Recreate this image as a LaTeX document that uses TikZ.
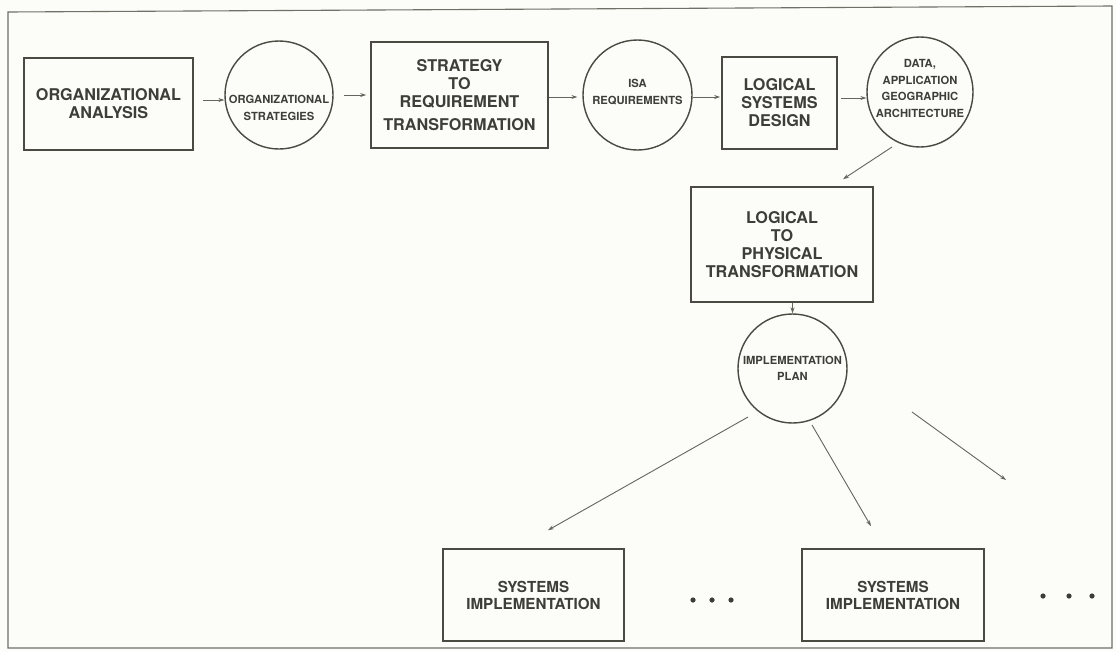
\documentclass[tikz,border=0pt]{standalone}
\usepackage{fontspec}
\setmainfont{TeX Gyre Heros}
\usetikzlibrary{shapes.geometric,arrows.meta,calc}
\definecolor{ink}{HTML}{4A4A42}
\definecolor{txt}{HTML}{3E3E38}
\definecolor{paper}{HTML}{FCFCF8}
\definecolor{framec}{HTML}{707068}
\begin{document}
\begin{tikzpicture}[x=1pt,y=-1pt,
  box/.style={draw=ink, line width=1.6pt, rectangle, inner sep=0pt, align=center, text=txt,
    font=\bfseries\fontsize{16.2}{18}\selectfont},
  sysbox/.style={box, font=\bfseries\fontsize{15.2}{17}\selectfont},
  circ/.style={draw=ink, line width=1.4pt, ellipse, inner sep=0pt},
  ctext/.style={text=txt, align=center, inner sep=0pt, font=\bfseries\fontsize{11.2}{16.5}\selectfont},
  arr/.style={draw=ink!85, line width=0.9pt, -{Stealth[length=6pt,width=4pt]}},
  frameline/.style={draw=framec, line width=1.1pt},
  dotmark/.style={fill=txt}]
\fill[paper] (0,0) rectangle (1116,651);
\useasboundingbox (0,0) rectangle (1116,651);
\draw[frameline] (8,12) -- (1112,6) -- (1112,648) -- (8,648) -- cycle;

\node[box, minimum width=169pt, minimum height=92pt] (org) at (108.5,104) {ORGANIZATIONAL\\ANALYSIS};
\node[circ, minimum width=108pt, minimum height=108pt,
  label={[ctext,yshift=-13pt]center:ORGANIZATIONAL\\STRATEGIES}] (os) at (279,95) {};
\node[box, minimum width=177pt, minimum height=106pt] (strat) at (459.5,95) {STRATEGY\\TO\\REQUIREMENT\\[5pt]TRANSFORMATION};
\node[circ, minimum width=109pt, minimum height=110pt,
  label={[ctext,yshift=3pt]center:ISA\\REQUIREMENTS}] (isa) at (637.5,95) {};
\node[box, minimum width=115pt, minimum height=92pt] (lsd) at (779.5,103) {LOGICAL\\SYSTEMS\\DESIGN};
\node[circ, minimum width=106pt, minimum height=110pt,
  label={[ctext,yshift=3.5pt]center:DATA,\\APPLICATION\\GEOGRAPHIC\\ARCHITECTURE}] (data) at (920,92) {};
\node[box, minimum width=182pt, minimum height=115pt] (ltp) at (782,244.5) {LOGICAL\\TO\\PHYSICAL\\TRANSFORMATION};
\node[circ, minimum width=109pt, minimum height=109pt,
  label={[ctext]center:IMPLEMENTATION\\PLAN}] (impl) at (792.5,368.5) {};
\node[sysbox, minimum width=181pt, minimum height=92pt] (sys1) at (533.5,595) {SYSTEMS\\IMPLEMENTATION};
\node[sysbox, minimum width=182pt, minimum height=92pt] (sys2) at (893,595) {SYSTEMS\\IMPLEMENTATION};

\fill[dotmark] (693,600) circle[radius=2.6pt] (712,600) circle[radius=2.6pt] (731,600) circle[radius=2.6pt];
\fill[dotmark] (1043,596) circle[radius=2.6pt] (1069,596) circle[radius=2.6pt] (1092,596) circle[radius=2.6pt];

\draw[arr, shorten <=9pt] (org.east |- 0,100) -- (os.west |- 0,100);
\draw[arr, shorten <=10pt, shorten >=4pt] (os.east) -- (strat.west);
\draw[arr, shorten >=5pt] (strat.east |- 0,97) -- (isa.west |- 0,97);
\draw[arr, shorten >=1pt] (isa.east |- 0,97) -- (lsd.west |- 0,97);
\draw[arr, shorten <=3pt] (lsd.east |- 0,98) -- (data.west |- 0,98);
\draw[arr] ($(data.center)+(-28,55)$) -- ($(ltp.north)+(61,-7)$);
\draw[arr] (ltp.south -| impl.north) -- (impl.north);
\draw[arr] ($(impl.center)+(-44.5,48.5)$) -- ($(sys1.north)+(14.5,-18)$);
\draw[arr] ($(impl.center)+(19.5,56.5)$) -- ($(sys2.north)+(-22,-22)$);
\coordinate (moreA) at (912,412);
\coordinate (moreB) at (1006,480);
\draw[arr] (moreA) -- (moreB);
\end{tikzpicture}
\end{document}
